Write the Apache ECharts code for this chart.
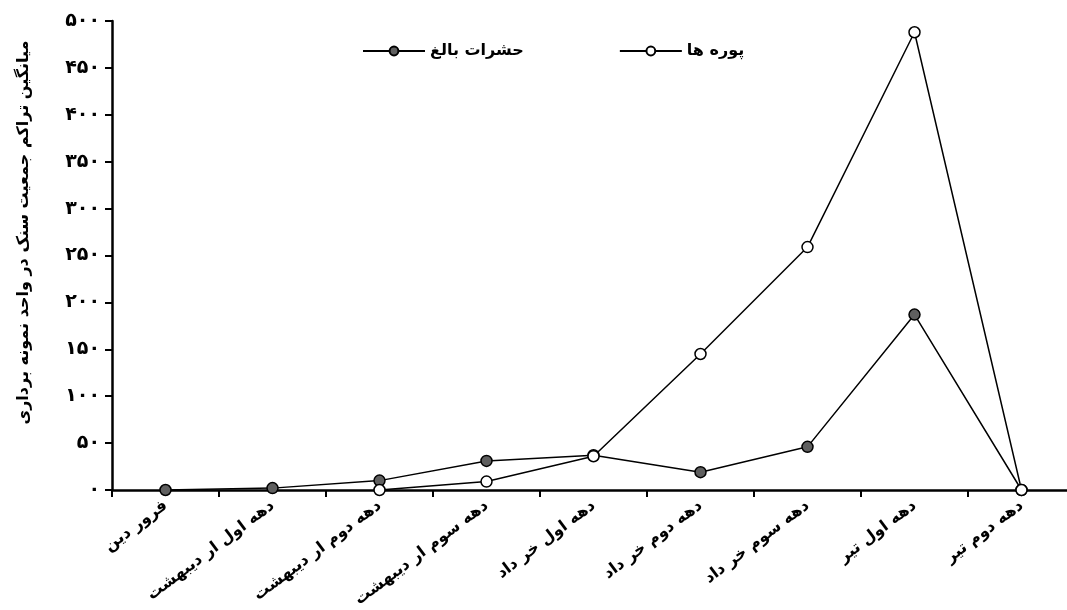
<!DOCTYPE html>
<html>
<head>
<meta charset="utf-8">
<script src="https://cdn.jsdelivr.net/npm/echarts@6/dist/echarts.min.js"></script>
<style>
  html, body { margin: 0; padding: 0; background: #fff; }
  #chart { width: 1067px; height: 610px; }
</style>
</head>
<body>
<div id="chart"></div>
<script>
// categories (ten-day periods)
const categories = [
    'فرور دین',
    'دهه اول ار دیبهشت',
    'دهه دوم ار دیبهشت',
    'دهه سوم ار دیبهشت',
    'دهه اول خر داد',
    'دهه دوم خر داد',
    'دهه سوم خر داد',
    'دهه اول تیر',
    'دهه دوم تیر'
];

// adults and nymphs
const adults = [0, 2, 10, 31, 37, 19, 46, 187, 0];
const nymphs = [null, null, 0, 9, 36, 145, 259, 488, 0];

const yTickLabels = ['۰', '۵۰', '۱۰۰', '۱۵۰', '۲۰۰', '۲۵۰', '۳۰۰', '۳۵۰', '۴۰۰', '۴۵۰', '۵۰۰'];

const fontFamily = '"DejaVu Sans", sans-serif';

const chart = echarts.init(document.getElementById('chart'));

const option = {
    backgroundColor: '#ffffff',
    animation: false,
    legend: {
        top: 38,
        left: 357,
        itemGap: 95,
        itemWidth: 62,
        itemHeight: 11,
        data: ['حشرات بالغ', 'پوره ها'],
        textStyle: {
            fontFamily: fontFamily,
            fontWeight: 'bold',
            fontSize: 16,
            color: '#000'
        }
    },
    grid: {
        left: 112,
        top: 21,
        width: 963,
        height: 469,
        outerBoundsMode: 'none'
    },
    xAxis: {
        type: 'category',
        data: categories,
        boundaryGap: true,
        axisLine: { lineStyle: { color: '#000', width: 2.5 } },
        axisTick: { show: true, length: 7, lineStyle: { color: '#000', width: 2 } },
        axisLabel: {
            rotate: 37,
            interval: 0,
            margin: 14,
            color: '#000',
            fontFamily: fontFamily,
            fontWeight: 'bold',
            fontSize: 16
        },
        splitLine: { show: false }
    },
    yAxis: {
        type: 'value',
        min: 0,
        max: 500,
        interval: 50,
        name: 'میانگین تراکم جمعیت سنک در واحد نمونه برداری',
        nameLocation: 'middle',
        nameRotate: 90,
        nameGap: 80,
        nameTextStyle: {
            fontFamily: fontFamily,
            fontWeight: 'bold',
            fontSize: 16,
            color: '#000',
            padding: [0, 0, 0, 46]
        },
        axisLine: { show: true, lineStyle: { color: '#000', width: 2.5 } },
        axisTick: { show: true, length: 7, lineStyle: { color: '#000', width: 2 } },
        axisLabel: {
            margin: 12,
            color: '#000',
            fontFamily: fontFamily,
            fontWeight: 'bold',
            fontSize: 19,
            formatter: function(value) {
                return yTickLabels[Math.round(value / 50)];
            }
        },
        splitLine: { show: false }
    },
    series: [
        {
            name: 'پوره ها',
            type: 'line',
            data: nymphs,
            symbol: 'circle',
            symbolSize: 11,
            lineStyle: { color: '#000', width: 1.5 },
            itemStyle: { color: '#ffffff', borderColor: '#000', borderWidth: 1.5 },
            z: 3
        },
        {
            name: 'حشرات بالغ',
            type: 'line',
            data: adults,
            symbol: 'circle',
            symbolSize: 11,
            lineStyle: { color: '#000', width: 1.5 },
            itemStyle: { color: '#5f5f5f', borderColor: '#000', borderWidth: 1.5 },
            z: 2
        }
    ]
};

chart.setOption(option);
</script>
</body>
</html>
